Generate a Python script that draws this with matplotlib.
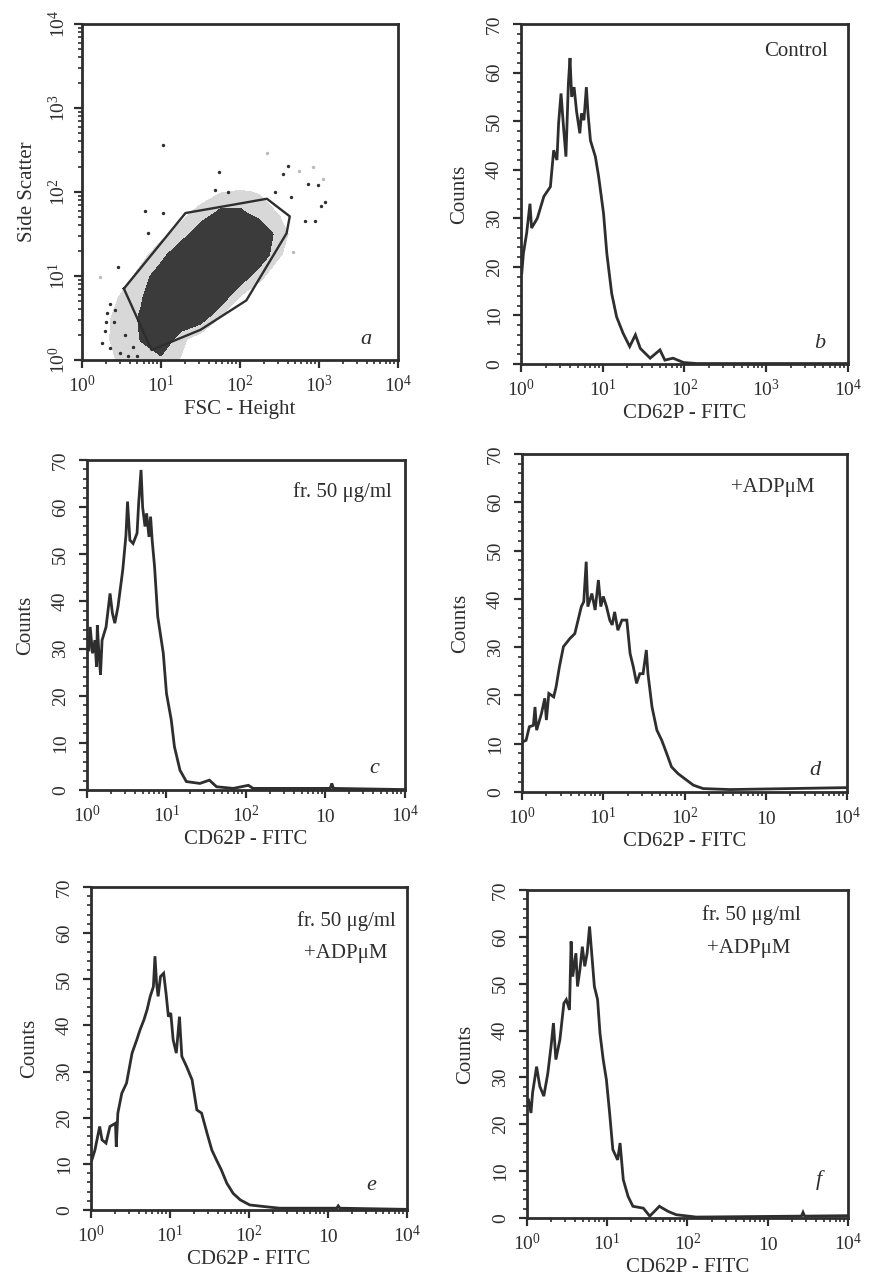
import numpy as np
import matplotlib
matplotlib.use('Agg')
import matplotlib.pyplot as plt
from matplotlib.ticker import FixedLocator, LogLocator, MultipleLocator, NullFormatter

plt.rcParams['font.family'] = 'Liberation Serif'
plt.rcParams['mathtext.fontset'] = 'custom'
plt.rcParams['mathtext.rm'] = 'Liberation Serif'
plt.rcParams['mathtext.it'] = 'Liberation Serif:italic'

INK = '#2e2e2e'

# ---------------- panel a : FSC / SSC density (grid in log10 units) ----------------
grid_x = [0, 0.25, 0.5, 0.75, 1.0, 1.25, 1.5, 1.75, 2.0, 2.25, 2.5, 2.75, 3.0]
grid_y = [0, 0.25, 0.5, 0.75, 1.0, 1.25, 1.5, 1.75, 2.0, 2.25]
density = [
    [0, .25, .35, .45, .50, .30, .10, 0, 0, 0, 0, 0, 0],
    [0, .30, .35, .60, .90, .40, .15, 0, 0, 0, 0, 0, 0],
    [0, .25, .40, .62, .90, .90, .75, .30, .10, 0, 0, 0, 0],
    [0, .15, .35, .55, .90, .90, .90, .80, .30, .10, 0, 0, 0],
    [0, 0, .20, .40, .80, .90, .90, .90, .80, .40, .10, 0, 0],
    [0, 0, .10, .25, .45, .90, .90, .90, .90, .80, .35, .10, 0],
    [0, 0, 0, .10, .25, .40, .80, .90, .90, .85, .45, .15, 0],
    [0, 0, 0, 0, .10, .25, .40, .65, .65, .45, .30, .10, 0],
    [0, 0, 0, 0, 0, .10, .20, .30, .35, .30, .15, 0, 0],
    [0, 0, 0, 0, 0, 0, 0, 0, 0, 0, 0, 0, 0],
]
gate_x = [0.53, 0.88, 1.50, 2.08, 2.59, 2.63, 2.34, 1.92, 1.31, 0.53]
gate_y = [0.85, 0.12, 0.36, 0.71, 1.51, 1.71, 1.92, 1.85, 1.75, 0.85]
stray_x = [1.03, 1.73, 1.68, 1.85, 0.80, 1.03, 0.84, 2.44, 2.55, 2.61, 2.86, 2.99,
           3.03, 3.07, 2.82, 2.95, 2.65, 0.46, 0.36, 0.32, 0.29, 0.36, 0.48, 0.65,
           0.40, 0.55, 0.25, 0.58, 0.30, 0.42, 0.70]
stray_y = [2.56, 2.24, 2.02, 2.00, 1.77, 1.75, 1.51, 2.00, 2.22, 2.31, 2.10, 2.08,
           1.83, 1.88, 1.65, 1.65, 1.94, 1.11, 0.67, 0.56, 0.34, 0.14, 0.08, 0.16,
           0.45, 0.30, 0.20, 0.05, 0.45, 0.60, 0.05]
faint_x = [2.93, 2.34, 2.67, 0.23, 2.75, 3.05]
faint_y = [2.30, 2.46, 1.29, 0.99, 2.25, 2.15]

# ---------------- histograms (x as log10 of CD62P-FITC) ----------------
b_x = [0.01, 0.03, 0.07, 0.11, 0.13, 0.20, 0.28, 0.36, 0.40, 0.44, 0.46, 0.49, 0.52, 0.55,
       0.58, 0.60, 0.62, 0.65, 0.68, 0.72, 0.74, 0.77, 0.80, 0.82, 0.85, 0.91, 0.95, 1.01,
       1.05, 1.11, 1.17, 1.25, 1.33, 1.40, 1.46, 1.58, 1.70, 1.76, 1.86, 1.99, 2.15, 4.0]
b_y = [18.7, 22.8, 27, 33, 28, 30, 34.5, 36.5, 44, 42, 49.5, 55.7, 48.9, 42.7,
       57.8, 63, 55, 57, 52, 47.5, 51.6, 50.2, 57, 51.6, 46, 42.7, 38.6, 31,
       22.8, 14.5, 9.7, 6.3, 3.6, 6, 3.2, 1.2, 2.9, 0.8, 1.2, 0.3, 0.1, 0.1]

c_x = [0.025, 0.04, 0.07, 0.10, 0.12, 0.13, 0.15, 0.17, 0.19, 0.24, 0.29, 0.32, 0.35, 0.39,
       0.45, 0.49, 0.51, 0.54, 0.58, 0.63, 0.65, 0.68, 0.70, 0.73, 0.75, 0.78, 0.80, 0.82,
       0.85, 0.89, 0.96, 1.00, 1.06, 1.10, 1.17, 1.25, 1.42, 1.54, 1.63, 1.84, 2.03, 2.09,
       3.06, 3.08, 3.10, 4.0]
c_y = [29.7, 34.6, 29, 31.8, 26.2, 35, 29, 24.5, 31.8, 34.6, 41.7, 37.5, 35.4, 38.9,
       46.7, 54, 61.2, 53, 52.3, 54.5, 60.8, 67.9, 60, 55.9, 58.7, 53.7, 58, 53,
       47.4, 36.8, 29, 20.5, 14.9, 9.2, 4.2, 1.8, 1.4, 2.1, 0.7, 0.35, 1.0, 0.35,
       0.35, 1.4, 0.35, 0.1]

d_x = [0.01, 0.05, 0.09, 0.14, 0.16, 0.18, 0.24, 0.28, 0.30, 0.33, 0.39, 0.42, 0.46, 0.51,
       0.59, 0.65, 0.69, 0.73, 0.76, 0.79, 0.81, 0.86, 0.90, 0.94, 0.97, 1.00, 1.04, 1.08,
       1.11, 1.14, 1.18, 1.23, 1.29, 1.33, 1.37, 1.41, 1.45, 1.49, 1.53, 1.55, 1.60, 1.66,
       1.72, 1.78, 1.84, 1.92, 2.03, 2.11, 2.23, 2.56, 4.0]
d_y = [10.4, 10.7, 13.5, 13.8, 17.6, 12.8, 16.3, 19.4, 14.9, 20.4, 19.7, 21.8, 25.9, 30.1,
       31.8, 32.8, 35.6, 38.4, 39.4, 47.7, 38.4, 41.1, 37.7, 43.9, 38.4, 40.5, 38.4, 35.6,
       34.6, 37.3, 33.5, 35.6, 35.6, 28.7, 25.9, 22.5, 24.5, 24.5, 29.4, 24.5, 17.6, 12.8,
       10.7, 8, 5.2, 3.8, 2.4, 1.4, 0.7, 0.5, 0.9]

e_x = [0.01, 0.05, 0.11, 0.14, 0.19, 0.24, 0.31, 0.32, 0.34, 0.39, 0.45, 0.52, 0.58, 0.62,
       0.67, 0.71, 0.75, 0.79, 0.81, 0.83, 0.85, 0.88, 0.92, 0.95, 0.98, 1.01, 1.04, 1.08,
       1.12, 1.15, 1.21, 1.28, 1.34, 1.40, 1.47, 1.53, 1.59, 1.65, 1.72, 1.80, 1.89, 2.01,
       2.22, 2.39, 3.11, 3.13, 3.15, 4.0]
e_y = [10.8, 13, 18.1, 15.2, 14.5, 18.1, 18.8, 13.7, 21, 25.3, 27.5, 34, 36.9, 39,
       41.2, 43.4, 46.3, 48.4, 55, 49.2, 46.3, 50.6, 51.3, 47, 41.9, 42.7, 36.9, 34,
       41.9, 33.3, 31.1, 28.2, 21.7, 21, 16.6, 13, 10.8, 8.7, 5.8, 3.6, 2.2, 1.1,
       0.7, 0.4, 0.4, 0.9, 0.4, 0.15]

f_x = [0.02, 0.05, 0.07, 0.12, 0.16, 0.21, 0.26, 0.30, 0.33, 0.36, 0.41, 0.46, 0.49, 0.53,
       0.55, 0.57, 0.61, 0.63, 0.66, 0.69, 0.72, 0.75, 0.78, 0.81, 0.84, 0.88, 0.91, 0.95,
       0.99, 1.03, 1.07, 1.13, 1.16, 1.20, 1.26, 1.32, 1.45, 1.53, 1.65, 1.76, 1.86, 2.11,
       3.42, 3.44, 3.46, 4.0]
f_y = [25.2, 22.4, 26.7, 32.3, 28.1, 26, 30.9, 36.6, 41.6, 33.8, 38, 45.8, 46.6, 44.4,
       59, 51.5, 56.5, 49.4, 53, 57.9, 53.7, 56.5, 62.2, 55.8, 49.4, 46.6, 39.4, 33.8,
       29.5, 22.4, 14.6, 12.4, 16, 8.2, 4.6, 2.5, 2.1, 0.4, 2.5, 1.4, 0.7, 0.2,
       0.4, 1.2, 0.4, 0.5]

x_ticklabels_full = [r'$10^{0}$', r'$10^{1}$', r'$10^{2}$', r'$10^{3}$', r'$10^{4}$']
x_ticklabels_hist = [r'$10^{0}$', r'$10^{1}$', r'$10^{2}$', '10', r'$10^{4}$']
count_ticks = [0, 10, 20, 30, 40, 50, 60, 70]

fig = plt.figure(figsize=(8.69, 12.84), dpi=100)


def style_axes(ax, ypad=3):
    for s in ax.spines.values():
        s.set_linewidth(2.0)
        s.set_color(INK)
    ax.tick_params(which='major', direction='out', length=6, width=1.6, colors=INK,
                   labelsize=14)
    ax.tick_params(which='minor', direction='out', length=3, width=1.2, colors=INK)
    ax.tick_params(axis='x', which='major', pad=17)
    ax.tick_params(axis='y', which='major', pad=ypad)
    ax.set_xscale('log')
    ax.set_xlim(1, 1e4)
    ax.xaxis.set_major_locator(FixedLocator([1, 10, 100, 1000, 10000]))
    ax.xaxis.set_minor_locator(LogLocator(base=10, subs=np.arange(2, 10), numticks=20))
    ax.xaxis.set_minor_formatter(NullFormatter())


def set_xlabels(ax, labels):
    # baseline alignment keeps plain "10" level with the 10^n labels
    ax.set_xticklabels(labels)
    for lab in ax.get_xticklabels():
        lab.set_va('baseline')


def histogram_panel(rect, xs, ys, note, letter, xlabels):
    ax = fig.add_axes(rect)
    style_axes(ax, ypad=7)
    ax.plot(10 ** np.array(xs), ys, color=INK, lw=2.0, solid_joinstyle='miter')
    ax.set_ylim(0, 70)
    ax.yaxis.set_major_locator(FixedLocator(count_ticks))
    ax.yaxis.set_minor_locator(MultipleLocator(2))
    set_xlabels(ax, xlabels)
    for lab in ax.get_yticklabels():
        lab.set_rotation(90)
        lab.set_va('center')
    ax.set_xlabel('CD62P - FITC', fontsize=15, color=INK, labelpad=3)
    ax.set_ylabel('Counts', fontsize=15, color=INK, labelpad=12)
    for txt, tx, ty, ha in note:
        ax.text(tx, ty, txt, transform=ax.transAxes, ha=ha, va='center',
                fontsize=15, color=INK)
    ax.text(letter[1], letter[2], letter[0], transform=ax.transAxes, ha='center',
            va='center', fontsize=16, style='italic', color=INK)
    return ax


# panel a: density drawn on an underlay axes in log10 units, marks on the log axes
rect_a = [0.0944, 0.7196, 0.3636, 0.2617]
ax_d = fig.add_axes(rect_a, zorder=0)
ax_d.set_xlim(0, 4)
ax_d.set_ylim(0, 4)
ax_d.axis('off')
ax_d.contourf(grid_x, grid_y, np.array(density), levels=[0.32, 0.58, 2.0],
              colors=['#d8d8d8', '#3b3b3b'])

ax = fig.add_axes(rect_a, zorder=1)
ax.patch.set_alpha(0)
style_axes(ax)
ax.set_yscale('log')
ax.set_ylim(1, 1e4)
ax.yaxis.set_major_locator(FixedLocator([1, 10, 100, 1000, 10000]))
ax.yaxis.set_minor_locator(LogLocator(base=10, subs=np.arange(2, 10), numticks=20))
ax.yaxis.set_minor_formatter(NullFormatter())
ax.scatter(10 ** np.array(stray_x), 10 ** np.array(stray_y), s=6, color=INK, lw=0)
ax.scatter(10 ** np.array(faint_x), 10 ** np.array(faint_y), s=6, color='#bbbbbb', lw=0)
ax.plot(10 ** np.array(gate_x), 10 ** np.array(gate_y), color=INK, lw=1.7)
set_xlabels(ax, x_ticklabels_full)
ax.set_yticklabels(x_ticklabels_full)
for lab in ax.get_yticklabels():
    lab.set_rotation(90)
    lab.set_va('center')
ax.set_xlabel('FSC - Height', fontsize=15, color=INK, labelpad=3)
ax.set_ylabel('Side Scatter', fontsize=15, color=INK, labelpad=8)
ax.text(0.90, 0.06, 'a', transform=ax.transAxes, ha='center', va='center',
        fontsize=16, style='italic', color=INK)

histogram_panel([0.5995, 0.7165, 0.3763, 0.2648], b_x, b_y,
                [('Control', 0.94, 0.92, 'right')], ('b', 0.913, 0.06),
                x_ticklabels_full)
histogram_panel([0.1001, 0.3847, 0.3659, 0.2570], c_x, c_y,
                [('fr. 50 \u03bcg/ml', 0.958, 0.904, 'right')], ('c', 0.905, 0.066),
                x_ticklabels_hist)
histogram_panel([0.6007, 0.3832, 0.3740, 0.2632], d_x, d_y,
                [('+ADP\u03bcM', 0.90, 0.90, 'right')], ('d', 0.90, 0.064),
                x_ticklabels_hist)
histogram_panel([0.1047, 0.0576, 0.3636, 0.2516], e_x, e_y,
                [('fr. 50 \u03bcg/ml', 0.966, 0.894, 'right'),
                 ('+ADP\u03bcM', 0.94, 0.795, 'right')], ('e', 0.887, 0.077),
                x_ticklabels_hist)
histogram_panel([0.6064, 0.0514, 0.3694, 0.2555], f_x, f_y,
                [('fr. 50 \u03bcg/ml', 0.70, 0.924, 'center'),
                 ('+ADP\u03bcM', 0.69, 0.822, 'center')], ('f', 0.91, 0.117),
                x_ticklabels_hist)

fig.savefig('out.png', dpi=100)
